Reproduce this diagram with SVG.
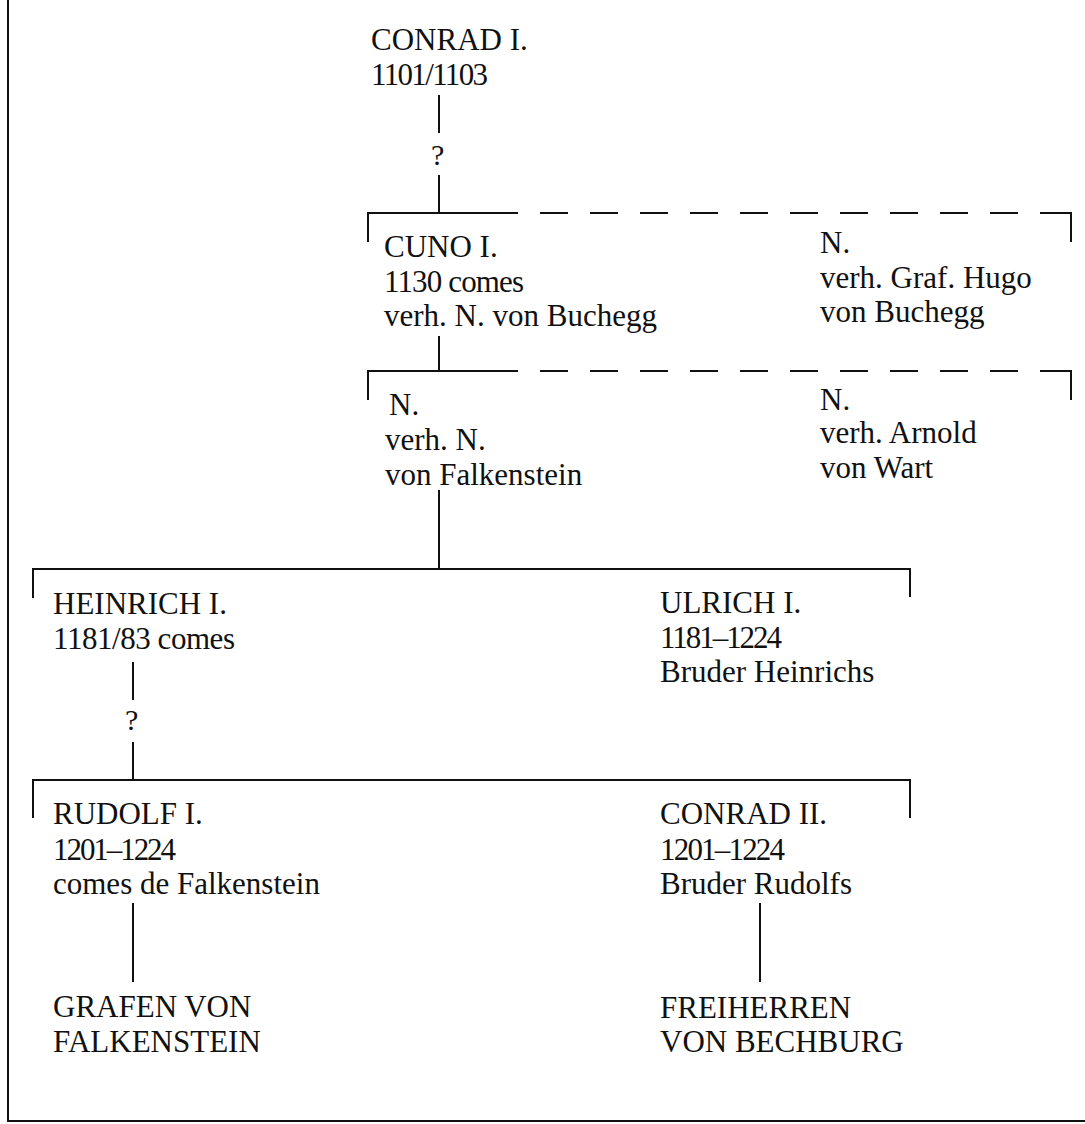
<svg xmlns="http://www.w3.org/2000/svg" width="1085" height="1124" viewBox="0 0 1085 1124">
<style>
text{font-family:"Liberation Serif","Times New Roman",serif;font-size:31px;fill:#111}
.ln{stroke:#111;stroke-width:2;fill:none}
.ds{stroke:#111;stroke-width:2;fill:none;stroke-dasharray:28 22}
</style>
<rect width="1085" height="1124" fill="#fff"/>
<g id="frame"><path class="ln" d="M8,0 V1121 H1085"/></g>
<g id="connectors">
<path class="ln" d="M439,95 V133 M439,175 V213"/>
<path class="ln" d="M368,242 V213 H518"/>
<path class="ds" d="M540,213 H1040"/>
<path class="ln" d="M1040,213 H1071 V242"/>
<path class="ln" d="M439,336 V371"/>
<path class="ln" d="M368,400 V371 H518"/>
<path class="ds" d="M540,371 H1040"/>
<path class="ln" d="M1040,371 H1071 V400"/>
<path class="ln" d="M439,490 V569"/>
<path class="ln" d="M33,598 V569 H910 V597"/>
<path class="ln" d="M133,662 V700 M133,742 V780"/>
<path class="ln" d="M33,818 V780 H910 V818"/>
<path class="ln" d="M133,903 V982 M760,903 V982"/>
<text x="125" y="730" style="font-size:30px">?</text>
<text x="431" y="165" style="font-size:30px">?</text>
</g>
<g id="conrad1"><text x="371" y="50">CONRAD I.</text><text x="371" y="85" textLength="117">1101/1103</text></g>
<g id="cuno1"><text x="384" y="257">CUNO I.</text><text x="384" y="292" textLength="140">1130 comes</text><text x="384" y="326">verh. N. von Buchegg</text></g>
<g id="n-hugo"><text x="820" y="253">N.</text><text x="820" y="288">verh. Graf. Hugo</text><text x="820" y="322">von Buchegg</text></g>
<g id="n-falkenstein"><text x="389" y="415">N.</text><text x="385" y="450">verh. N.</text><text x="385" y="485">von Falkenstein</text></g>
<g id="n-wart"><text x="820" y="410">N.</text><text x="820" y="443">verh. Arnold</text><text x="820" y="478">von Wart</text></g>
<g id="heinrich1"><text x="53" y="614">HEINRICH I.</text><text x="53" y="649" textLength="182">1181/83 comes</text></g>
<g id="ulrich1"><text x="660" y="613">ULRICH I.</text><text x="660" y="648" textLength="122">1181–1224</text><text x="660" y="682">Bruder Heinrichs</text></g>
<g id="rudolf1"><text x="53" y="824">RUDOLF I.</text><text x="53" y="860" textLength="123">1201–1224</text><text x="53" y="894">comes de Falkenstein</text></g>
<g id="conrad2"><text x="660" y="824">CONRAD II.</text><text x="660" y="860" textLength="125">1201–1224</text><text x="660" y="894">Bruder Rudolfs</text></g>
<g id="grafen"><text x="53" y="1017">GRAFEN VON</text><text x="53" y="1052">FALKENSTEIN</text></g>
<g id="freiherren"><text x="660" y="1018">FREIHERREN</text><text x="660" y="1052">VON BECHBURG</text></g>
</svg>
